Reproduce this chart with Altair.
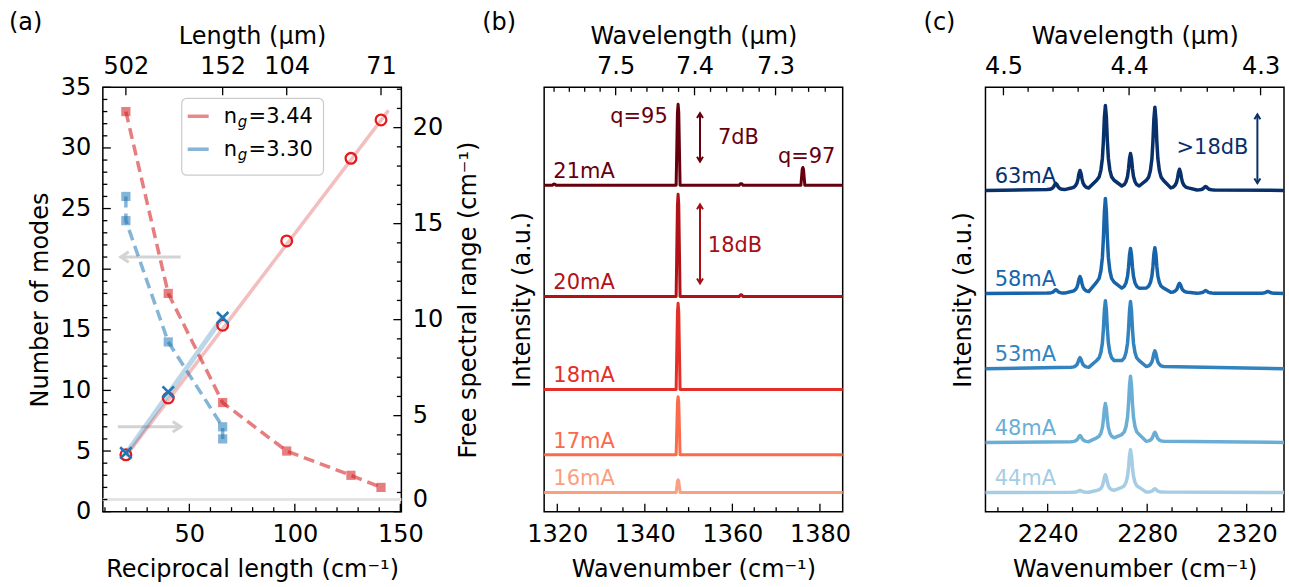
import altair as alt
import pandas as pd

W, H = 299, 425
FONT = "DejaVu Sans"
FS = 21          # annotation / legend text
AFS = 24         # axis labels and titles
TMAJ, TMIN = 8, 4.5
RED = "#d62728"
RED_MK = "#e41a1c"
BLUE = "#1f77b4"
GRAY = "#d3d3d3"

# ---------------- panel (a) values ----------------
a_recip = [19.92, 40.0, 65.79, 96.15, 126.6, 140.85]
a_modes_red = [33, 18, 9, 5, 3, 2]
a_fsr_red = [2.96, 5.92, 9.71, 14.1, 18.4, 20.4]
a_bsq_x = [19.92, 19.92, 40.0, 65.79, 65.79]
a_bsq_modes = [26, 24, 14, 7, 6]
a_bx_x = [19.92, 40.0, 65.79]
a_bx_fsr = [3.06, 6.23, 10.1]
a_fit_red_x = [19.92, 144.4]
a_fit_red_fsr = [2.9, 20.9]
a_fit_blue_x = [19.92, 66.3]
a_fit_blue_fsr = [3.0, 10.2]
a_top_length_um = [502, 152, 104, 71]
a_hline_modes = [1]
a_arrow_tail = [45.9, 16.1]
a_arrow_tip = [17.5, 45.9]
a_arrow_modes = [21, 7]
a_legend_values = ["=3.44", "=3.30"]
a_xdom = [9, 150.5]
a_ydom_left = [0, 35]
a_ydom_right = [0, 22.1]
a_bottom_major = [50, 100, 150]
a_bottom_minor = [10, 20, 30, 40, 60, 70, 80, 90, 110, 120, 130, 140]
a_left_major = [0, 5, 10, 15, 20, 25, 30, 35]
a_left_minor = [v for v in range(1, 35) if v % 5]
a_right_major = [0, 5, 10, 15, 20]
a_right_minor = [v for v in range(1, 23) if v % 5]

# ---------------- panel (b) values ----------------
b_currents = ["16mA", "17mA", "18mA", "20mA", "21mA"]
b_colors = ["#fb9f81", "#fb6a4a", "#e32f27", "#b11218", "#67000d"]
b_offsets = [4.5, 13.4, 28.8, 50.7, 76.9]
b_peak_pos = [1319.3, 1347.6, 1362.0, 1376.1]
b_peak_h = [
    [0.0, 3.0, 0.0, 0.0],
    [0.0, 13.7, 0.0, 0.0],
    [0.0, 20.3, 0.0, 0.0],
    [0.0, 24.1, 0.4, 0.0],
    [0.3, 19.1, 0.4, 4.2],
]
b_prof_dx = [-0.45, -0.15, 0.0, 0.15, 0.45]
b_prof_rel = [0.0, 0.9, 1.0, 0.9, 0.0]
b_xdom = [1317.0, 1385.2]
b_ydom = [0, 100]
b_bottom_major = [1320, 1340, 1360, 1380]
b_bottom_minor = [1325, 1330, 1335, 1345, 1350, 1355, 1365, 1370, 1375]
b_top_major_um = [7.5, 7.4, 7.3]
b_top_minor_um = [7.58, 7.56, 7.54, 7.52, 7.48, 7.46, 7.44, 7.42, 7.38,
                  7.36, 7.34, 7.32, 7.28, 7.26, 7.24]
b_label_x = 1319.1
b_notes = ["q=95", "7dB", "q=97", "18dB"]
b_notes_x = [1332.1, 1356.7, 1370.4, 1354.4]
b_notes_y = [91.5, 86.6, 82.1, 61.3]
b_notes_col = ["#67000d", "#67000d", "#67000d", "#a50f15"]
b_arrow_x = [1352.6, 1352.6]
b_arrow_lo = [82.5, 53.8]
b_arrow_hi = [93.9, 72.4]
b_arrow_col = ["#67000d", "#a50f15"]

# ---------------- panel (c) values ----------------
c_currents = ["44mA", "48mA", "53mA", "58mA", "63mA"]
c_colors = ["#a6cde4", "#6aaed6", "#3383be", "#1764ab", "#08306b"]
c_offsets = [4.5, 16.3, 33.7, 51.4, 75.7]
c_peak_pos = [2243.3, 2253.0, 2263.2, 2273.3, 2283.1, 2293.0, 2303.5, 2328.5]
c_peak_h = [
    [0.0, 0.5, 4.2, 10.1, 0.9, 0.0, 0.0, 0.0],
    [0.0, 1.65, 9.2, 15.6, 2.4, 0.0, 0.0, 0.0],
    [0.0, 2.6, 16.0, 15.8, 4.2, 0.0, 0.0, 0.0],
    [0.9, 4.0, 22.4, 10.6, 10.8, 2.4, 0.7, 0.5],
    [1.65, 4.7, 20.0, 8.7, 19.6, 5.0, 0.9, 0.0],
]
c_prof_dx = [-3.5, -2.5, -1.8, -1.2, -0.8, -0.4, 0.0, 0.4, 0.8, 1.2, 1.8, 2.5, 3.5]
c_prof_rel = [0.12, 0.16, 0.24, 0.38, 0.58, 0.86, 1.0, 0.86, 0.58, 0.38, 0.24, 0.16, 0.12]
c_xdom = [2215.0, 2335.0]
c_ydom = [0, 100]
c_bottom_major = [2240, 2280, 2320]
c_bottom_minor = [2220, 2230, 2250, 2260, 2270, 2290, 2300, 2310, 2330]
c_top_major_um = [4.5, 4.4, 4.3]
c_top_minor_um = [4.48, 4.46, 4.44, 4.42, 4.38, 4.36, 4.34, 4.32]
c_label_x = 2218.7
c_notes = [">18dB"]
c_notes_x = [2291.8]
c_notes_y = [84.2]
c_notes_col = ["#08306b"]
c_arrow_x = [2324.3]
c_arrow_lo = [77.4]
c_arrow_hi = [93.6]
c_arrow_col = ["#08306b"]

LABEL_LIFT = 1.7  # text sits just above each trace's baseline

# ---------------- helpers ----------------
AX = dict(grid=False, ticks=False, tickSize=0, domain=False,
          labelFontSize=AFS, titleFontSize=AFS, labelFont=FONT, titleFont=FONT,
          titleFontWeight="normal", labelColor="black", titleColor="black",
          labelOverlap=False)


def lin(dom):
    return alt.Scale(domain=dom, nice=False, zero=False)


ONE = pd.DataFrame({"k": [0]})


def ticks(vals, enc, side, length):
    df = pd.DataFrame({"v": vals})
    m = alt.Chart(df).mark_rule(color="black", strokeWidth=1.3)
    if side == "left":
        return m.encode(y=enc("v:Q"), x=alt.value(0), x2=alt.value(length))
    if side == "right":
        return m.encode(y=enc("v:Q"), x=alt.value(W - length), x2=alt.value(W))
    if side == "bottom":
        return m.encode(x=enc("v:Q"), y=alt.value(H), y2=alt.value(H - length))
    return m.encode(x=enc("v:Q"), y=alt.value(0), y2=alt.value(length))


def panel_label(txt, dx):
    return alt.Chart(ONE).mark_text(align="left", baseline="middle", fontSize=24,
                                    color="black").encode(
        x=alt.value(dx), y=alt.value(-64), text=alt.value(txt))


def build_traces(currents, colors, offsets, pos, heights, dx, rel, dom):
    rows = []
    for cur, col, off, hs in zip(currents, colors, offsets, heights):
        rows.append({"cur": cur, "col": col, "x": dom[0], "y": off})
        for c, h in zip(pos, hs):
            if h > 0:
                for d, r in zip(dx, rel):
                    rows.append({"cur": cur, "col": col, "x": c + d, "y": off + r * h})
        rows.append({"cur": cur, "col": col, "x": dom[1], "y": off})
    return pd.DataFrame(rows)


UP = "M-1,1.6L0,0L1,1.6"
DOWN = "M-1,-1.6L0,0L1,-1.6"

# ================= panel (a) =================
sx_a, sy_al = lin(a_xdom), lin(a_ydom_left)
sx_at, sy_ar = lin(a_xdom), lin(a_ydom_right)
ax_ab = alt.Axis(orient="bottom", values=a_bottom_major, format="d", labelFlush=False,
                 title="Reciprocal length (cm⁻¹)", labelPadding=11, titlePadding=11, **AX)
ax_al = alt.Axis(orient="left", values=a_left_major, format="d", labelFlush=False,
                 title="Number of modes", labelPadding=12, titlePadding=8, **AX)
ax_at = alt.Axis(orient="top", values=[1e4 / L for L in a_top_length_um], labelFlush=False,
                 labelExpr="format(10000 / datum.value, '.0f')",
                 title="Length (μm)", labelPadding=9, titlePadding=6, **AX)
ax_ar = alt.Axis(orient="right", values=a_right_major, format="d", labelFlush=True,
                 title="Free spectral range (cm⁻¹)", titleAngle=270, titleBaseline="top",
                 labelPadding=11, titlePadding=14, **AX)


def XA(f):
    return alt.X(f, scale=sx_a, axis=ax_ab)


def YL(f):
    return alt.Y(f, scale=sy_al, axis=ax_al)


def XT(f):
    return alt.X(f, scale=sx_at, axis=ax_at)


def YR(f):
    return alt.Y(f, scale=sy_ar, axis=ax_ar)


df_red = pd.DataFrame({"x": a_recip, "m": a_modes_red, "f": a_fsr_red})
df_bsq = pd.DataFrame({"x": a_bsq_x, "m": a_bsq_modes, "i": list(range(len(a_bsq_x)))})
df_bx = pd.DataFrame({"x": a_bx_x, "f": a_bx_fsr})
df_fr = pd.DataFrame({"x": a_fit_red_x, "f": a_fit_red_fsr})
df_fb = pd.DataFrame({"x": a_fit_blue_x, "f": a_fit_blue_fsr})
df_arr = pd.DataFrame({"x1": a_arrow_tail, "x2": a_arrow_tip, "m": a_arrow_modes})

L = [
    alt.Chart(pd.DataFrame({"m": a_hline_modes})).mark_rule(color="#e4e4e4", strokeWidth=3)
    .encode(y=YL("m:Q"), x=alt.value(0), x2=alt.value(W)),
    alt.Chart(df_arr).mark_rule(color=GRAY, strokeWidth=3)
    .encode(x=XA("x1:Q"), x2="x2:Q", y=YL("m:Q")),
    alt.Chart(df_arr.iloc[[0]]).mark_point(shape="M2,-1.3L0,0L2,1.3", filled=False, color=GRAY,
                                           strokeWidth=3, size=64, opacity=1)
    .encode(x=XA("x2:Q"), y=YL("m:Q")),
    alt.Chart(df_arr.iloc[[1]]).mark_point(shape="M-2,-1.3L0,0L-2,1.3", filled=False, color=GRAY,
                                           strokeWidth=3, size=64, opacity=1)
    .encode(x=XA("x2:Q"), y=YL("m:Q")),
    alt.Chart(df_bsq).mark_line(color=BLUE, opacity=0.55, strokeWidth=3.5, strokeDash=[11, 6])
    .encode(x=XA("x:Q"), y=YL("m:Q"), order="i:O"),
    alt.Chart(df_bsq).mark_square(color=BLUE, opacity=0.55, size=85)
    .encode(x=XA("x:Q"), y=YL("m:Q")),
    alt.Chart(df_red).mark_line(color=RED, opacity=0.6, strokeWidth=3.5, strokeDash=[11, 6])
    .encode(x=XA("x:Q"), y=YL("m:Q")),
    alt.Chart(df_red).mark_square(color=RED, opacity=0.6, size=85)
    .encode(x=XA("x:Q"), y=YL("m:Q")),
    ticks(a_bottom_major, XA, "bottom", TMAJ),
    ticks(a_bottom_minor, XA, "bottom", TMIN),
    ticks(a_left_major, YL, "left", TMAJ),
    ticks(a_left_minor, YL, "left", TMIN),
    # legend
    alt.Chart(ONE).mark_rect(fill="white", fillOpacity=0.85, stroke="#cccccc", strokeWidth=1.2,
                             cornerRadius=5)
    .encode(x=alt.value(79), x2=alt.value(221), y=alt.value(11), y2=alt.value(88)),
    panel_label("(a)", -94),
]
for col, yl, yb, val in [(RED, 29, 36, a_legend_values[0]), (BLUE, 62, 69, a_legend_values[1])]:
    L.append(alt.Chart(ONE).mark_rule(color=col, opacity=0.55, strokeWidth=3.5)
             .encode(x=alt.value(85), x2=alt.value(106), y=alt.value(yl)))
    L.append(alt.Chart(ONE).mark_text(align="left", baseline="alphabetic", fontSize=FS, color="black")
             .encode(x=alt.value(121), y=alt.value(yb), text=alt.value("n")))
    L.append(alt.Chart(ONE).mark_text(align="left", baseline="alphabetic", fontSize=15,
                                      fontStyle="italic", color="black")
             .encode(x=alt.value(135), y=alt.value(yb + 4), text=alt.value("g")))
    L.append(alt.Chart(ONE).mark_text(align="left", baseline="alphabetic", fontSize=FS, color="black")
             .encode(x=alt.value(146), y=alt.value(yb), text=alt.value(val)))

R = [
    alt.Chart(df_fr).mark_line(color=RED, opacity=0.3, strokeWidth=3.5)
    .encode(x=XT("x:Q"), y=YR("f:Q")),
    alt.Chart(df_fb).mark_line(color=BLUE, opacity=0.3, strokeWidth=5)
    .encode(x=XT("x:Q"), y=YR("f:Q")),
    alt.Chart(df_red).mark_point(shape="circle", filled=False, color=RED_MK, strokeWidth=2.3,
                                 size=115, opacity=1)
    .encode(x=XT("x:Q"), y=YR("f:Q")),
    alt.Chart(df_bx).mark_point(shape="M-1,-1L1,1M-1,1L1,-1", filled=False, color=BLUE,
                                strokeWidth=2.6, size=130, opacity=1)
    .encode(x=XT("x:Q"), y=YR("f:Q")),
    ticks([1e4 / L_ for L_ in a_top_length_um], XT, "top", TMAJ),
    ticks(a_right_major, YR, "right", TMAJ),
    ticks(a_right_minor, YR, "right", TMIN),
]

pa = alt.layer(alt.layer(*L), alt.layer(*R)).resolve_scale(
    x="independent", y="independent").properties(width=W, height=H)


# ================= spectra panels (b), (c) =================
def spectra_panel(tag, currents, colors, offsets, pos, heights, dx, rel, xdom, ydom,
                  bmaj, bmin, tmaj_um, tmin_um, label_x, notes, nx, ny, ncol,
                  ax_x, alo, ahi, acol, top_fmt, lw):
    sx, sy, sxt = lin(xdom), lin(ydom), lin(xdom)
    ax_b = alt.Axis(orient="bottom", values=bmaj, format="d", title="Wavenumber (cm⁻¹)",
                    labelFlush=False, labelPadding=11, titlePadding=11, **AX)
    ax_l = alt.Axis(orient="left", labels=False, title="Intensity (a.u.)",
                    labelFlush=False, titlePadding=10, **AX)
    ax_t = alt.Axis(orient="top", values=[1e4 / u for u in tmaj_um],
                    labelExpr="format(10000 / datum.value, '%s')" % top_fmt,
                    title="Wavelength (μm)", labelFlush=False, labelPadding=9,
                    titlePadding=6, **AX)

    def X(f):
        return alt.X(f, scale=sx, axis=ax_b)

    def Y(f):
        return alt.Y(f, scale=sy, axis=ax_l)

    def XT2(f):
        return alt.X(f, scale=sxt, axis=ax_t)

    tr = build_traces(currents, colors, offsets, pos, heights, dx, rel, xdom)
    lab = pd.DataFrame({"cur": currents, "col": colors,
                        "x": [label_x] * len(currents),
                        "y": [o + LABEL_LIFT for o in offsets]})
    nt = pd.DataFrame({"t": notes, "x": nx, "y": ny, "col": ncol})
    ar = pd.DataFrame({"x": ax_x, "lo": alo, "hi": ahi, "col": acol})
    main = [
        alt.Chart(tr).mark_line(strokeWidth=lw, strokeJoin="round")
        .encode(x=X("x:Q"), y=Y("y:Q"), color=alt.Color("col:N", scale=None)),
        alt.Chart(lab).mark_text(align="left", baseline="alphabetic", fontSize=FS)
        .encode(x=X("x:Q"), y=Y("y:Q"), text="cur:N", color=alt.Color("col:N", scale=None)),
        alt.Chart(nt).mark_text(align="left", baseline="alphabetic", fontSize=FS)
        .encode(x=X("x:Q"), y=Y("y:Q"), text="t:N", color=alt.Color("col:N", scale=None)),
        alt.Chart(ar).mark_rule(strokeWidth=2)
        .encode(x=X("x:Q"), y=Y("lo:Q"), y2="hi:Q", color=alt.Color("col:N", scale=None)),
        alt.Chart(ar).mark_point(shape=UP, filled=False, strokeWidth=2, size=36, opacity=1)
        .encode(x=X("x:Q"), y=Y("hi:Q"), color=alt.Color("col:N", scale=None)),
        alt.Chart(ar).mark_point(shape=DOWN, filled=False, strokeWidth=2, size=36, opacity=1)
        .encode(x=X("x:Q"), y=Y("lo:Q"), color=alt.Color("col:N", scale=None)),
        ticks(bmaj, X, "bottom", TMAJ),
        ticks(bmin, X, "bottom", TMIN),
        panel_label(tag, -62),
    ]
    top = [
        ticks([1e4 / u for u in tmaj_um], XT2, "top", TMAJ),
        ticks([1e4 / u for u in tmin_um], XT2, "top", TMIN),
    ]
    return alt.layer(alt.layer(*main), alt.layer(*top)).resolve_scale(
        x="independent").properties(width=W, height=H)


pb = spectra_panel("(b)", b_currents, b_colors, b_offsets, b_peak_pos, b_peak_h,
                   b_prof_dx, b_prof_rel, b_xdom, b_ydom, b_bottom_major, b_bottom_minor,
                   b_top_major_um, b_top_minor_um, b_label_x, b_notes, b_notes_x,
                   b_notes_y, b_notes_col, b_arrow_x, b_arrow_lo, b_arrow_hi,
                   b_arrow_col, ".1f", 3)
pc = spectra_panel("(c)", c_currents, c_colors, c_offsets, c_peak_pos, c_peak_h,
                   c_prof_dx, c_prof_rel, c_xdom, c_ydom, c_bottom_major, c_bottom_minor,
                   c_top_major_um, c_top_minor_um, c_label_x, c_notes, c_notes_x,
                   c_notes_y, c_notes_col, c_arrow_x, c_arrow_lo, c_arrow_hi,
                   c_arrow_col, ".1f", 3.5)

chart = alt.hconcat(pa, pb, pc, spacing=143, bounds="flush").properties(
    padding={"left": 8, "top": 10, "right": 2, "bottom": 2},
    background="white",
).configure(font=FONT).configure_view(stroke="black", strokeWidth=1.5)

chart.save("out.html", embed_options={"renderer": "svg", "actions": False})
